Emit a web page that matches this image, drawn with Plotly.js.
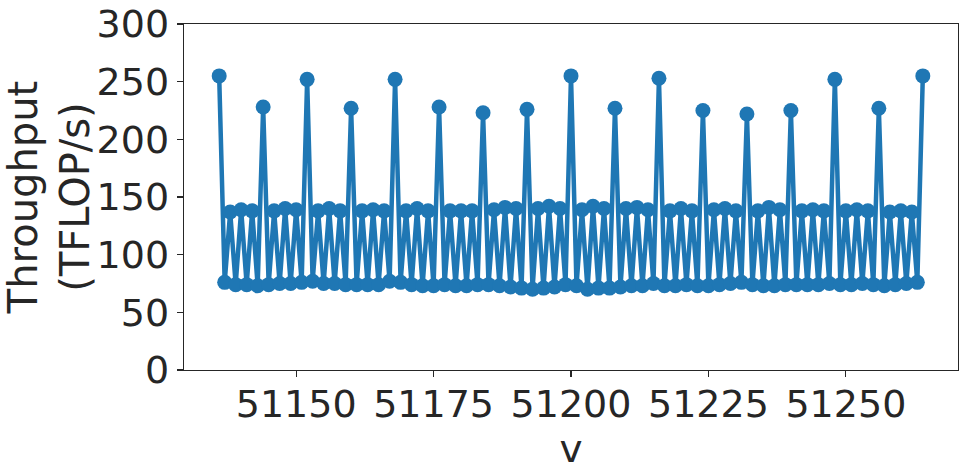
<!DOCTYPE html>
<html>
<head>
<meta charset="utf-8">
<script src="https://cdn.plot.ly/plotly-3.0.1.min.js"></script>
<style>html,body{margin:0;padding:0;background:#fff;}#chart{width:968px;height:473px;}</style>
</head>
<body>
<div id="chart"></div>
<script>
// x values: V from 51136 to 51264 (step 1)
const vStart = 51136;
// throughput (TFLOP/s)
const peakValues = [255, 228, 252, 227, 252, 228, 223, 226, 255, 227, 253, 225, 222, 225, 252, 227, 255];
const betweenGroups = [
  [76, 137, 74, 139, 74, 138, 73],
  [74, 138, 75, 140, 75, 139, 76],
  [77, 138, 75, 140, 75, 138, 74],
  [74, 138, 74, 139, 74, 138, 77],
  [76, 138, 74, 140, 73, 138, 73],
  [74, 138, 73, 138, 73, 138, 74],
  [74, 139, 73, 141, 72, 140, 71],
  [70, 140, 71, 142, 72, 140, 74],
  [73, 139, 70, 142, 71, 140, 71],
  [72, 140, 73, 141, 73, 139, 75],
  [73, 138, 73, 140, 74, 138, 73],
  [73, 139, 74, 140, 75, 138, 76],
  [74, 138, 73, 141, 73, 139, 74],
  [74, 138, 74, 139, 74, 138, 75],
  [74, 138, 74, 139, 75, 138, 74],
  [73, 137, 74, 138, 75, 137, 76]
];
const yTickVals = [0, 50, 100, 150, 200, 250, 300];
const xTickVals = [51150, 51175, 51200, 51225, 51250];

const throughput = [];
for (let g = 0; g < peakValues.length; g++) {
  throughput.push(peakValues[g]);
  if (g < betweenGroups.length) throughput.push(...betweenGroups[g]);
}
const vValues = throughput.map((_, i) => vStart + i);

const textColor = '#262626';
const fontFam = 'DejaVu Sans, sans-serif';

const trace = {
  x: vValues, y: throughput, type: 'scatter', mode: 'lines+markers',
  line: {color: '#1f77b4', width: 4.5},
  marker: {color: '#1f77b4', size: 15},
  cliponaxis: false, hoverinfo: 'none'
};

const layout = {
  width: 968, height: 473,
  margin: {l: 184, r: 10, t: 24, b: 103},
  paper_bgcolor: '#fff', plot_bgcolor: '#fff',
  showlegend: false,
  font: {family: fontFam, color: textColor, size: 38},
  xaxis: {
    range: [51129.6, 51270.4], tickvals: xTickVals, ticktext: xTickVals.map(String),
    showgrid: false, zeroline: false, showline: true, mirror: true,
    linecolor: textColor, linewidth: 1.25, ticks: 'outside', ticklen: 6, tickwidth: 1.25, tickcolor: textColor,
    tickfont: {size: 38, family: fontFam, color: textColor},
    ticklabelstandoff: -6,
    title: {text: 'v', font: {size: 39, family: fontFam, color: textColor}, standoff: 2},
    automargin: false
  },
  yaxis: {
    range: [0, 300], tickvals: yTickVals, ticktext: yTickVals.map(String),
    showgrid: false, zeroline: false, showline: true, mirror: true,
    linecolor: textColor, linewidth: 1.25, ticks: 'outside', ticklen: 6, tickwidth: 1.25, tickcolor: textColor,
    tickfont: {size: 38, family: fontFam, color: textColor},
    title: {text: 'Throughput<br>(TFLOP/s)', font: {size: 40, family: fontFam, color: textColor}, standoff: 8},
    automargin: false
  }
};

Plotly.newPlot('chart', [trace], layout, {staticPlot: true, displayModeBar: false});
</script>
</body>
</html>
